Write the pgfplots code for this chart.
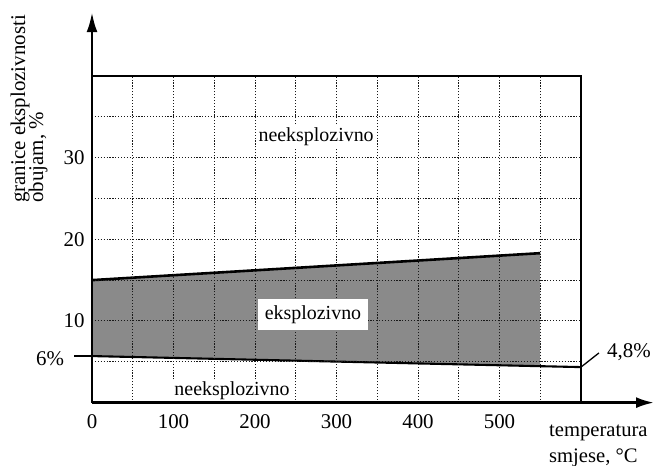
\documentclass[border=0pt]{standalone}
\usepackage{fontspec}
\setmainfont{Liberation Serif}
\usepackage{pgfplots}
\pgfplotsset{compat=1.18}
\usetikzlibrary{arrows.meta}
\definecolor{fillgray}{RGB}{138,138,138}
\begin{document}
\begin{tikzpicture}[font=\fontsize{20}{24}\selectfont]
\begin{axis}[
 scale only axis, width=489bp, height=326.7bp,
 xmin=0,xmax=600,ymin=0,ymax=40,
 axis on top, clip=false,
 xtick={0,100,...,500}, minor xtick={50,150,...,550},
 ytick={10,20,30}, minor ytick={5,15,25,35},
 grid=both,
 major grid style={black!90,line width=0.95bp,dash pattern=on 1.2bp off 1.7bp},
 minor grid style={black!90,line width=0.95bp,dash pattern=on 1.2bp off 1.7bp},
 major tick length=0pt, minor tick length=0pt,
 axis line style={line width=1.2bp},
 /pgf/number format/assume math mode=true,
 tick label style={font=\fontsize{21}{24}\selectfont},
 xticklabel style={anchor=base,yshift=-25.5bp},
 yticklabel style={anchor=east,xshift=-4bp},
]
% explosive region
\addplot[fill=fillgray, draw=none] coordinates {(0,15) (550,18.3) (550,4.46) (0,5.7)} -- cycle;
% upper limit
\addplot[black, line width=2.6bp] coordinates {(0,15) (550,18.3)};
% lower limit
\addplot[black, line width=2.1bp] coordinates {(0,5.7) (600,4.35)};
\coordinate (o) at (axis cs:0,0);
\coordinate (ytip) at (axis cs:0,47.8);
\coordinate (xtip) at (axis cs:689.6,0);
\coordinate (lt) at (axis cs:275,32.5);
\coordinate (lm) at (axis cs:271.2,10.8);
\coordinate (lb) at (axis cs:171.8,1.43);
\coordinate (six) at (axis cs:-51.5,5.35);
\coordinate (sixa) at (axis cs:-22,5.7);
\coordinate (sixb) at (axis cs:0,5.7);
\coordinate (fa) at (axis cs:600,4.35);
\coordinate (fb) at (axis cs:622,6.08);
\coordinate (ft) at (axis cs:631.9,5.47);
\coordinate (yl1) at (axis cs:-82.2,24.45);
\coordinate (yl2) at (axis cs:-60.1,24.45);
\coordinate (xl1) at (axis cs:560.7,-4.2);
\coordinate (xl2) at (axis cs:560.7,-7.37);
\coordinate (bbsw) at (axis cs:-112.9,-7.75);
\coordinate (bbne) at (axis cs:689.6,49.3);
\end{axis}
\node[fill=white, inner sep=2bp] at (lt) {neeksplozivno};
\node[fill=white, inner xsep=6.6bp, inner ysep=6.5bp] at (lm) {eksplozivno};
\node[fill=white, inner xsep=2bp, inner ysep=1bp] at (lb) {neeksplozivno};
\node[font=\fontsize{21}{24}\selectfont] at (six) {6\%};
\draw[line width=1.3bp] (sixa) -- (sixb);
\draw[line width=1.3bp] (fa) -- (fb);
\node[anchor=base west, inner sep=0pt, font=\fontsize{21}{24}\selectfont] at (ft) {4,8\%};
\node[anchor=base west, inner sep=0pt, rotate=90, font=\fontsize{21}{24}\selectfont] at (yl1) {granice eksplozivnosti};
\node[anchor=base west, inner sep=0pt, rotate=90, font=\fontsize{21}{24}\selectfont] at (yl2) {obujam, \%};
\node[anchor=base west, inner sep=0pt, font=\fontsize{20.7}{24}\selectfont] at (xl1) {temperatura};
\node[anchor=base west, inner sep=0pt, font=\fontsize{20.7}{24}\selectfont] at (xl2) {smjese, °C};
\draw[line width=2.6bp, -{Latex[length=20bp,width=11bp]}] (o) -- (ytip);
\draw[line width=2.6bp, -{Latex[length=18bp,width=11bp]}] (o) -- (xtip);
\pgfresetboundingbox
\path[use as bounding box] (bbsw) rectangle (bbne);
\end{tikzpicture}
\end{document}
